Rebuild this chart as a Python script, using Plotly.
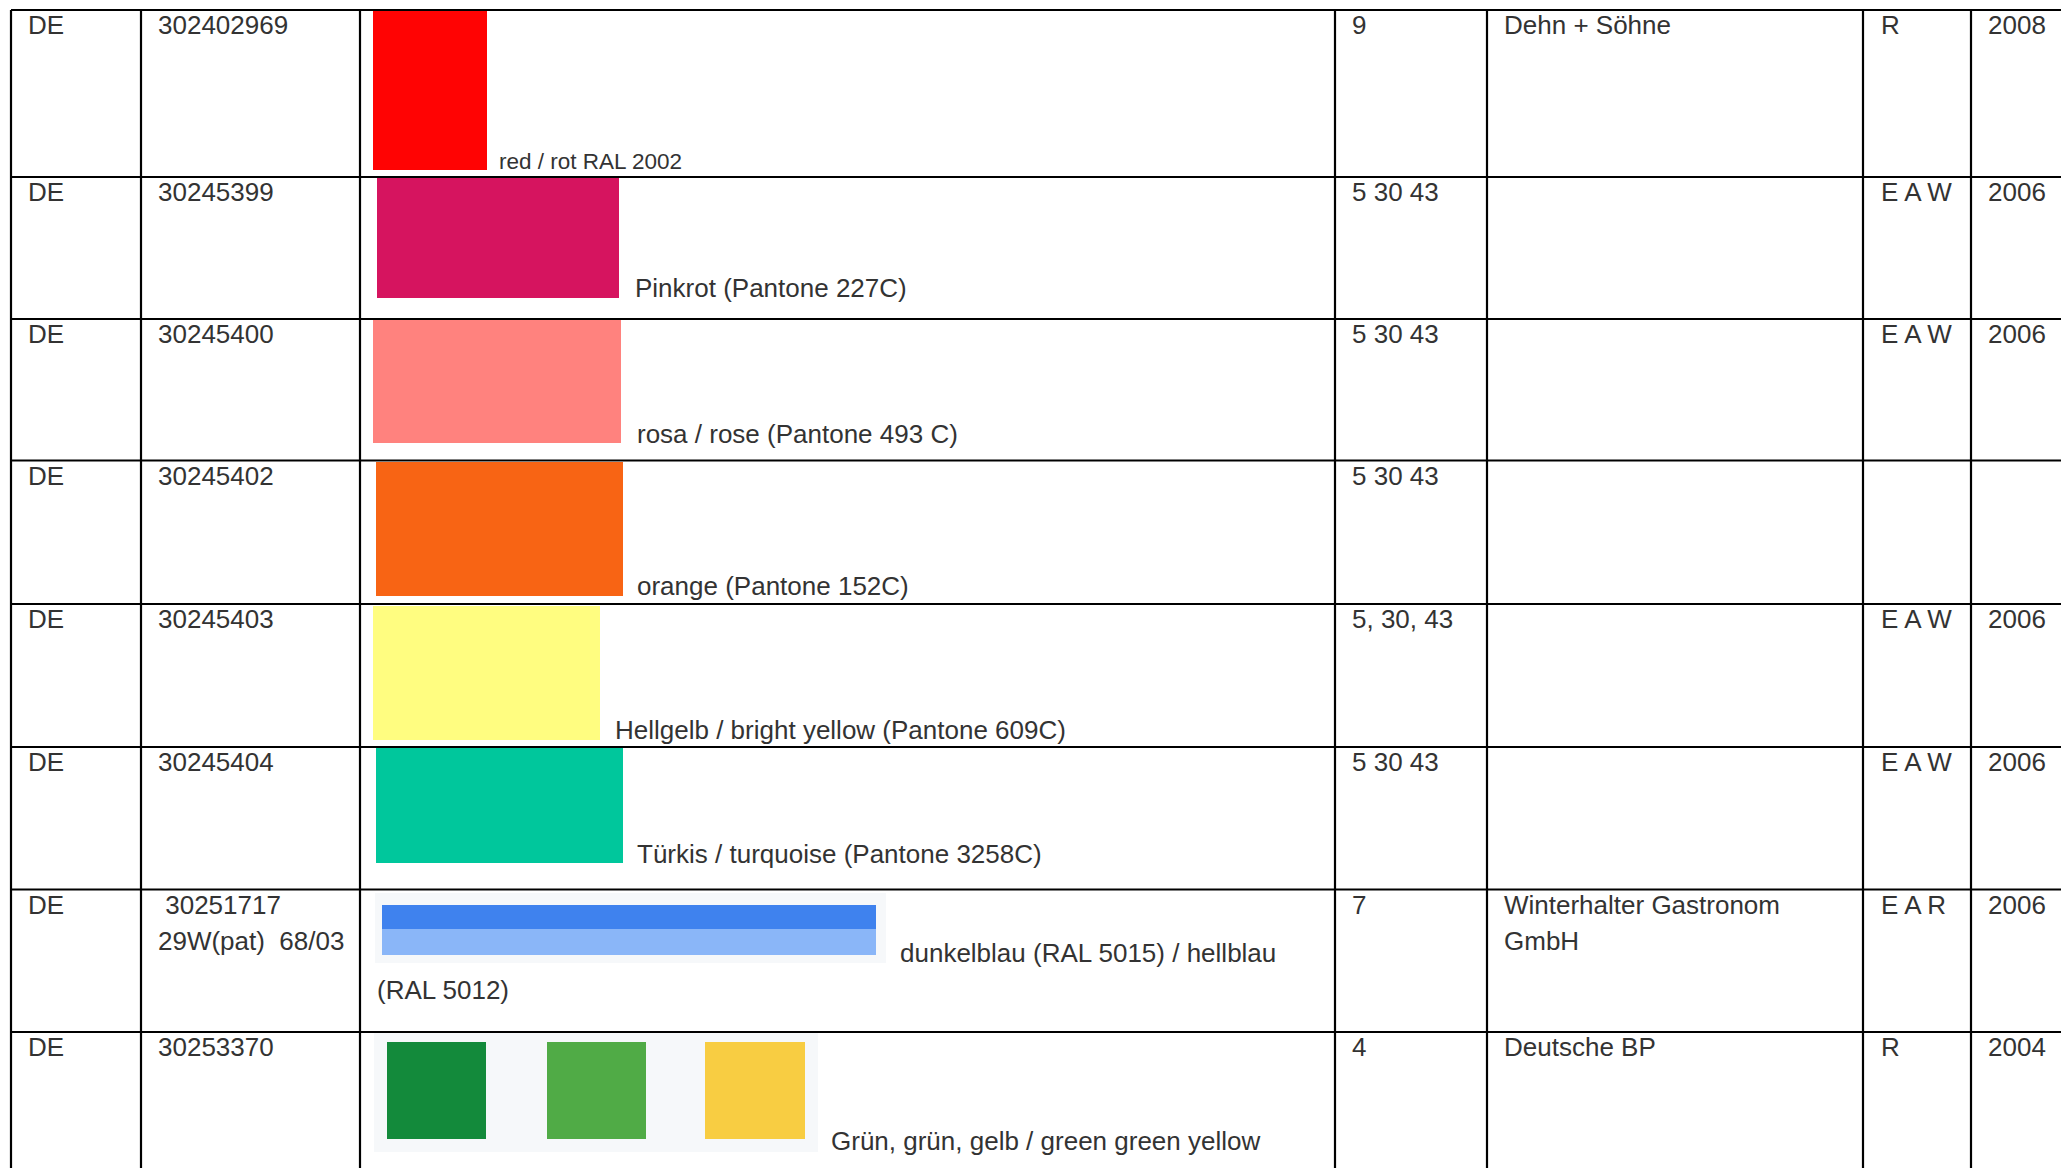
import plotly.graph_objects as go

# ---------------- data ----------------
countries = ["DE", "DE", "DE", "DE", "DE", "DE", "DE", "DE"]
numbers = ["302402969", "30245399", "30245400", "30245402", "30245403", "30245404",
           " 30251717\n29W(pat)  68/03", "30253370"]
classes = ["9", "5 30 43", "5 30 43", "5 30 43", "5, 30, 43", "5 30 43", "7", "4"]
owners = ["Dehn + Söhne", "", "", "", "", "", "Winterhalter Gastronom\nGmbH", "Deutsche BP"]
codes = ["R", "E A W", "E A W", "", "E A W", "E A W", "E A R", "R"]
years = ["2008", "2006", "2006", "", "2006", "2006", "2006", "2004"]
color_labels = ["red / rot RAL 2002", "Pinkrot (Pantone 227C)", "rosa / rose (Pantone 493 C)",
                "orange (Pantone 152C)", "Hellgelb / bright yellow (Pantone 609C)",
                "Türkis / turquoise (Pantone 3258C)",
                "dunkelblau (RAL 5015) / hellblau", "Grün, grün, gelb / green green yellow"]
label_extra = ["", "", "", "", "", "", "(RAL 5012)", ""]
swatch_colors = [["#FF0303"], ["#D6145F"], ["#FF827E"], ["#F86414"], ["#FFFD80"],
                 ["#00C79C"], ["#3F82EE", "#8AB6F8"], ["#138A3B", "#50AB46", "#F8CD42"]]

# ---------------- layout (pixels, page coordinates) ----------------
W, H = 2069, 1168
OFF = 8  # default page body margin
FONT = "Liberation Sans, Arial, sans-serif"
TXT = "#333333"
MAIN = 26
row_tops = [10, 177, 319, 460.5, 604, 747, 889.5, 1032]
row_bottom = 1180
col_lines = [11, 141, 360, 1335, 1487, 1863, 1971]
col_text_x = [26, 156, None, 1350, 1502, 1879, 1986]

# swatch boxes per row: list of (x0, x1, y0, y1)
swatch_boxes = [
    [(373, 487, 10, 170)],
    [(377, 619, 178, 298)],
    [(373, 621, 320, 443)],
    [(376, 623, 462, 596)],
    [(373, 600, 606, 740)],
    [(376, 623, 748, 863)],
    [(382, 876, 905, 929), (382, 876, 929, 955)],
    [(387, 486, 1042, 1139), (547, 646, 1042, 1139), (705, 805, 1042, 1139)],
]
swatch_bg = [None, None, None, None, None, None, (375, 886, 893, 963), (374, 818, 1033, 1152)]
# (x, baseline, size)
label_pos = [(497, 170, 22.5), (633, 298, MAIN), (635, 444, MAIN), (635, 596, MAIN), (613, 740, MAIN),
             (635, 864, MAIN), (898, 963, MAIN), (829, 1151, MAIN)]
extra_pos = [None] * 6 + [(375, 1000, MAIN), None]

fig = go.Figure()
shapes = []
annotations = []

for i, boxes in enumerate(swatch_boxes):
    if swatch_bg[i]:
        x0, x1, y0, y1 = swatch_bg[i]
        shapes.append(dict(type="rect", x0=x0, x1=x1, y0=y0, y1=y1, xref="x", yref="y",
                           fillcolor="#F6F8FA", line=dict(width=0), layer="below"))
    for (x0, x1, y0, y1), c in zip(boxes, swatch_colors[i]):
        shapes.append(dict(type="rect", x0=x0, x1=x1, y0=y0, y1=y1, xref="x", yref="y",
                           fillcolor=c, line=dict(width=0), layer="below"))

for y in row_tops:
    shapes.append(dict(type="line", x0=col_lines[0], x1=W + 20, y0=y, y1=y, xref="x", yref="y",
                       line=dict(color="black", width=2.2)))
for x in col_lines:
    shapes.append(dict(type="line", x0=x, x1=x, y0=row_tops[0], y1=row_bottom, xref="x", yref="y",
                       line=dict(color="black", width=2.2)))

LINE_GAP = 36
CAP_OFF = -2


def esc(s):
    return s.replace(" ", "&nbsp;") if (s.startswith(" ") or "  " in s) else s


def cell_text(x, ytop, text, size=MAIN):
    for k, line in enumerate(text.split("\n")):
        if not line:
            continue
        annotations.append(dict(x=x, y=ytop + CAP_OFF + k * LINE_GAP, xref="x", yref="y",
                                text=esc(line), showarrow=False, xanchor="left", yanchor="top",
                                font=dict(family=FONT, size=size, color=TXT)))


def base_text(x, baseline, text, size):
    annotations.append(dict(x=x, y=baseline + 0.28 * size, xref="x", yref="y", text=text,
                            showarrow=False, xanchor="left", yanchor="bottom",
                            font=dict(family=FONT, size=size, color=TXT)))


for i, top in enumerate(row_tops):
    cols = [countries[i], numbers[i], None, classes[i], owners[i], codes[i], years[i]]
    for j, t in enumerate(cols):
        if t:
            cell_text(col_text_x[j], top, t)
    lx, ly, ls = label_pos[i]
    base_text(lx, ly, color_labels[i], ls)
    if extra_pos[i]:
        ex, ey, es = extra_pos[i]
        base_text(ex, ey, label_extra[i], es)

fig.update_layout(
    width=W, height=H,
    margin=dict(l=0, r=0, t=0, b=0),
    paper_bgcolor="white", plot_bgcolor="white",
    xaxis=dict(range=[OFF, W + OFF], visible=False, fixedrange=True),
    yaxis=dict(range=[H + OFF, OFF], visible=False, fixedrange=True),
    shapes=shapes, annotations=annotations, showlegend=False,
)
fig.write_html("out.html")
